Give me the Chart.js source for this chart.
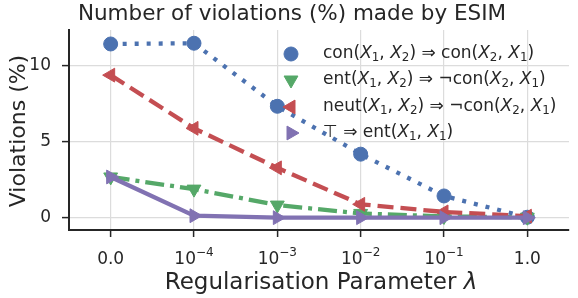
<!DOCTYPE html>
<html>
<head>
<meta charset="utf-8">
<script src="https://cdn.jsdelivr.net/npm/chart.js@4"></script>
<style>
  html, body { margin: 0; padding: 0; background: #fff; }
  #wrap { width: 578px; height: 298px; }
</style>
</head>
<body>
<div id="wrap"><canvas id="c" width="578" height="298"></canvas></div>
<script>
'use strict';

// data
const xTickLabels = ['0.0', '10^-4', '10^-3', '10^-2', '10^-1', '1.0'];
const yTicks = [0, 5, 10];
const conSym = [11.45, 11.5, 7.35, 4.2, 1.45, 0.05];
const entCon = [2.7, 1.9, 0.85, 0.3, 0.1, 0.05];
const neutCon = [9.4, 5.9, 3.3, 0.9, 0.4, 0.12];
const topEnt = [2.7, 0.15, 0.02, 0.02, 0.02, 0.02];
const seriesLabels = [
  'con(X_1, X_2) ⇒ con(X_2, X_1)',
  'ent(X_1, X_2) ⇒ ¬con(X_2, X_1)',
  'neut(X_1, X_2) ⇒ ¬con(X_2, X_1)',
  '⊤ ⇒ ent(X_1, X_1)',
];
const titleText = 'Number of violations (%) made by ESIM';
const xTitle = 'Regularisation Parameter ';
const yTitle = 'Violations (%)';

const TXT = '#262626';
const FONT = '"DejaVu Sans", sans-serif';

// 수식 비슷한 텍스트: X 이탤릭, _n 아래첨자
function drawMath(ctx, str, x, y, size) {
  let cx = x;
  for (let i = 0; i < str.length; i++) {
    const ch = str[i];
    if (ch === '_') {
      const d = str[++i];
      ctx.font = `${size * 0.7}px ${FONT}`;
      ctx.fillText(d, cx, y + size * 0.22);
      cx += ctx.measureText(d).width;
      continue;
    }
    ctx.font = (ch === 'X' ? 'italic ' : '') + `${size}px ${FONT}`;
    ctx.fillText(ch, cx, y);
    cx += ctx.measureText(ch).width;
  }
  return cx - x;
}

function lineSet(label, data, color, style, rot, dash, order, radius) {
  return {
    label, data, order,
    borderColor: color,
    backgroundColor: color,
    borderWidth: 4.3,
    borderDash: dash,
    borderCapStyle: 'butt',
    pointStyle: style,
    pointRotation: rot,
    pointRadius: radius,
    pointHoverRadius: radius,
    pointBackgroundColor: color,
    pointBorderColor: color,
    pointBorderWidth: 1,
    tension: 0,
  };
}

const datasets = [
  lineSet(seriesLabels[0], conSym, '#4c72b0', 'circle', 0, [4, 8], 4, 7),
  lineSet(seriesLabels[1], entCon, '#55a868', 'triangle', 180, [19, 6, 4, 6], 3, 8),
  lineSet(seriesLabels[2], neutCon, '#c44e52', 'triangle', -90, [16, 7], 2, 8),
  lineSet(seriesLabels[3], topEnt, '#8172b2', 'triangle', 90, [], 1, 8),
];

const textPlugin = {
  id: 'texts',
  afterDraw(chart) {
    const { ctx, scales } = chart;
    ctx.save();
    ctx.fillStyle = TXT;

    // 제목
    ctx.font = `21.5px ${FONT}`;
    ctx.textAlign = 'center';
    ctx.textBaseline = 'alphabetic';
    ctx.fillText(titleText, 292, 20);

    // x 축 제목 (λ 이탤릭)
    ctx.font = `23px ${FONT}`;
    const w1 = ctx.measureText(xTitle).width;
    ctx.font = `italic 23px ${FONT}`;
    const w2 = ctx.measureText('λ').width;
    const sx = 321 - (w1 + w2) / 2;
    ctx.textAlign = 'left';
    ctx.font = `23px ${FONT}`;
    ctx.fillText(xTitle, sx, 289);
    ctx.font = `italic 23px ${FONT}`;
    ctx.fillText('λ', sx + w1, 289);

    // y 축 제목
    ctx.save();
    ctx.translate(25, 131);
    ctx.rotate(-Math.PI / 2);
    ctx.textAlign = 'center';
    ctx.font = `22px ${FONT}`;
    ctx.fillText(yTitle, 0, 0);
    ctx.restore();

    // x 눈금 라벨 (10^n 위첨자)
    const xs = scales.x;
    xTickLabels.forEach((lab, i) => {
      const px = xs.getPixelForValue(i);
      if (lab.includes('^')) {
        const [base, exp] = lab.split('^');
        const expTxt = exp.replace('-', '−');
        ctx.font = `17px ${FONT}`;
        const bw = ctx.measureText(base).width;
        ctx.font = `12px ${FONT}`;
        const ew = ctx.measureText(expTxt).width;
        const x0 = px - (bw + ew) / 2;
        ctx.textAlign = 'left';
        ctx.font = `17px ${FONT}`;
        ctx.fillText(base, x0, 264);
        ctx.font = `12px ${FONT}`;
        ctx.fillText(expTxt, x0 + bw, 256);
      } else {
        ctx.textAlign = 'center';
        ctx.font = `17px ${FONT}`;
        ctx.fillText(lab, px, 264);
      }
    });

    // 범례
    const rows = [54, 80, 107, 133];
    datasets.forEach((ds, r) => {
      ctx.fillStyle = ds.borderColor;
      ctx.strokeStyle = ds.borderColor;
      ctx.lineWidth = 1;
      Chart.helpers.drawPoint(ctx, {
        pointStyle: ds.pointStyle,
        rotation: ds.pointRotation,
        radius: ds.pointRadius,
        borderWidth: 1,
      }, 291, rows[r]);
      ctx.fillStyle = TXT;
      ctx.textAlign = 'left';
      ctx.textBaseline = 'middle';
      drawMath(ctx, ds.label, 323, rows[r], 17);
    });
    ctx.restore();
  }
};

new Chart(document.getElementById('c'), {
  type: 'line',
  plugins: [textPlugin],
  data: {
    labels: xTickLabels,
    datasets,
  },
  options: {
    responsive: false,
    animation: false,
    layout: { padding: { top: 30, right: 0, left: 0, bottom: 0 } },
    plugins: {
      legend: { display: false },
      title: { display: false },
      tooltip: { enabled: false },
    },
    scales: {
      x: {
        type: 'category',
        offset: true,
        grid: {
          offset: false,
          color: '#dcdcdc',
          lineWidth: 1.2,
          drawTicks: true,
          tickLength: 7,
          tickColor: TXT,
          tickWidth: 1.5,
        },
        border: { color: TXT, width: 2 },
        ticks: { display: false },
        afterFit(scale) { scale.height = 68; },
      },
      y: {
        min: -0.79,
        max: 12.37,
        grid: {
          color: '#dcdcdc',
          lineWidth: 1.2,
          drawTicks: true,
          tickLength: 7,
          tickColor: TXT,
          tickWidth: 1.5,
        },
        border: { color: TXT, width: 2 },
        ticks: {
          color: TXT,
          padding: 11,
          font: { size: 17, family: FONT },
        },
        afterBuildTicks(scale) {
          scale.ticks = yTicks.map(v => ({ value: v }));
        },
        afterFit(scale) { scale.width = 69; },
      },
    },
  },
});
</script>
</body>
</html>
